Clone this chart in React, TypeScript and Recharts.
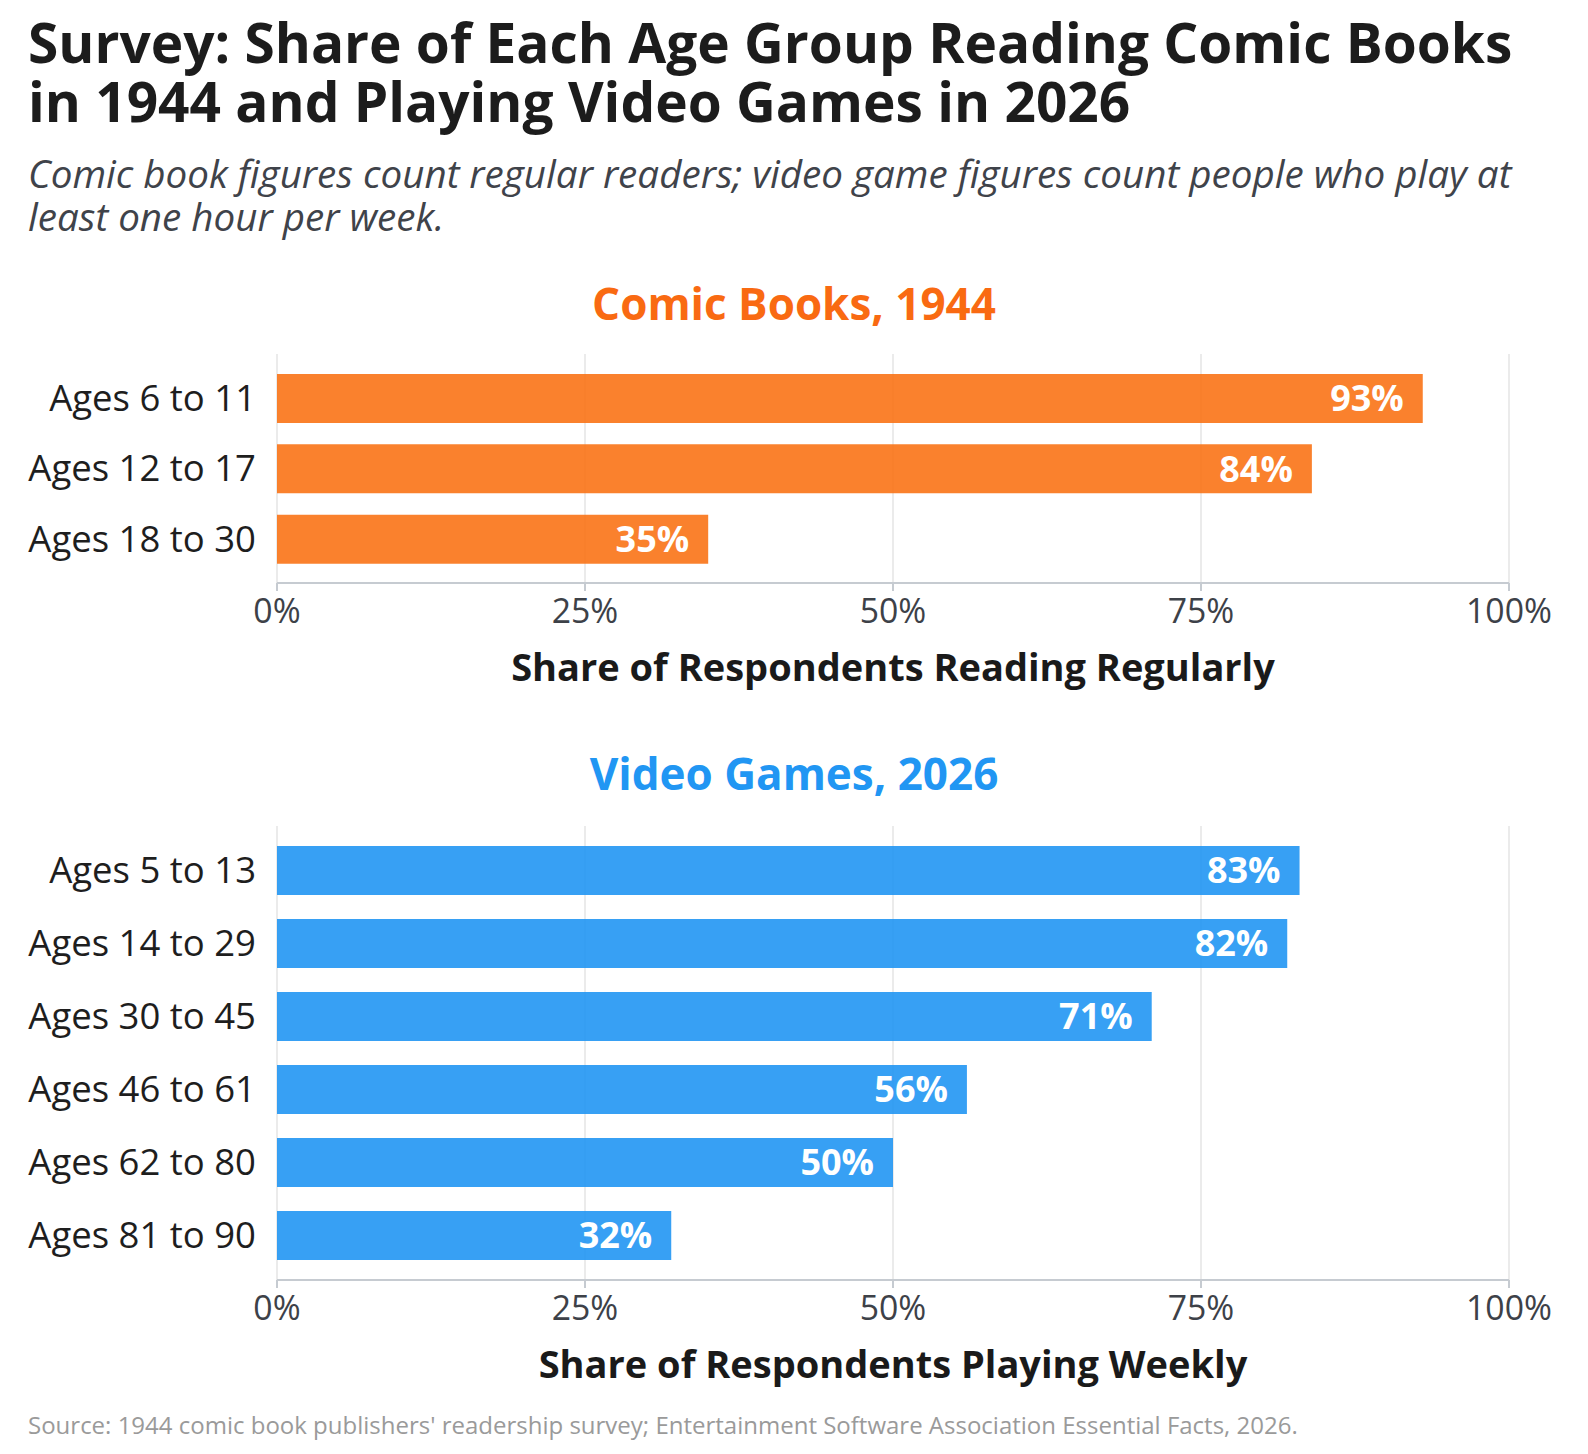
import React from "react";
import {
  BarChart,
  Bar,
  XAxis,
  YAxis,
  CartesianGrid,
  LabelList,
} from "recharts";

const comicAges = ["Ages 6 to 11", "Ages 12 to 17", "Ages 18 to 30"];
const comicShare = [93, 84, 35];

const gameAges = [
  "Ages 5 to 13",
  "Ages 14 to 29",
  "Ages 30 to 45",
  "Ages 46 to 61",
  "Ages 62 to 80",
  "Ages 81 to 90",
];
const gameShare = [83, 82, 71, 56, 50, 32];

const xTicks = [0, 25, 50, 75, 100];

const titleLines = [
  "Survey: Share of Each Age Group Reading Comic Books",
  "in 1944 and Playing Video Games in 2026",
];
const subtitleLines = [
  "Comic book figures count regular readers; video game figures count people who play at",
  "least one hour per week.",
];

const FONT = "'Open Sans', 'Noto Sans', sans-serif";

const comicData = comicAges.map((age, i) => ({ age, value: comicShare[i] }));
const gameData = gameAges.map((age, i) => ({ age, value: gameShare[i] }));

type PanelProps = {
  data: { age: string; value: number }[];
  height: number;
  color: string;
  axisLabel: string;
  pad: number;
};

function Panel({ data, height, color, axisLabel, pad }: PanelProps) {
  return (
    <BarChart
      layout="vertical"
      width={1588}
      height={height}
      data={data}
      margin={{ top: 10, right: 79, bottom: 15, left: 27 }}
    >
      <CartesianGrid horizontal={false} stroke="#e4e4e4" strokeWidth={1.5} />
      <XAxis
        type="number"
        domain={[0, 100]}
        ticks={xTicks}
        tickFormatter={(v) => `${v}%`}
        height={100}
        stroke="#c6cbd1"
        strokeWidth={2}
        tickSize={8}
        tickMargin={8}
        tick={{ fill: "#3d4148", fontSize: 33.8, fontFamily: FONT }}
        label={{
          value: axisLabel,
          position: "insideBottom",
          offset: 2,
          fill: "#1a1a1a",
          fontSize: 38,
          fontWeight: 700,
          fontFamily: FONT,
        }}
      />
      <YAxis
        type="category"
        dataKey="age"
        width={250}
        axisLine={false}
        tickLine={false}
        tickMargin={15}
        padding={{ top: pad, bottom: pad }}
        tick={{ fill: "#1e1e1e", fontSize: 36.5, fontFamily: FONT }}
      />
      <Bar
        dataKey="value"
        fill={color}
        fillOpacity={0.9}
        barSize={49}
        isAnimationActive={false}
      >
        <LabelList
          dataKey="value"
          position="insideRight"
          offset={19}
          formatter={(v: number) => `${v}%`}
          fill="#ffffff"
          fontSize={36}
          fontWeight={700}
          fontFamily={FONT}
        />
      </Bar>
    </BarChart>
  );
}

export default function App() {
  return (
    <div
      style={{
        position: "absolute",
        left: 0,
        top: 0,
        width: 1588,
        height: 1454,
        background: "#ffffff",
        fontFamily: FONT,
        overflow: "hidden",
      }}
    >
      {/* Title */}
      <div style={{ position: "absolute", left: 28, top: 12 }}>
        {titleLines.map((line) => (
          <div
            key={line}
            style={{
              height: 59,
              fontSize: 55,
              fontWeight: 700,
              lineHeight: "59px",
              color: "#1c1c1c",
              whiteSpace: "nowrap",
            }}
          >
            {line}
          </div>
        ))}
      </div>

      {/* Subtitle */}
      <div style={{ position: "absolute", left: 28, top: 152 }}>
        {subtitleLines.map((line) => (
          <div
            key={line}
            style={{
              height: 43,
              fontSize: 38.6,
              fontStyle: "italic",
              lineHeight: "43px",
              color: "#3f434a",
              whiteSpace: "nowrap",
            }}
          >
            {line}
          </div>
        ))}
      </div>

      <div
        style={{
          position: "absolute",
          left: 0,
          width: 1588,
          top: 273,
          textAlign: "center",
          fontSize: 44,
          fontWeight: 700,
          color: "#f96a12",
        }}
      >
        Comic Books, 1944
      </div>
      <div style={{ position: "absolute", left: 0, top: 344 }}>
        <Panel
          data={comicData}
          height={354}
          color="#f97316"
          axisLabel="Share of Respondents Reading Regularly"
          pad={9}
        />
      </div>

      <div
        style={{
          position: "absolute",
          left: 0,
          width: 1588,
          top: 743,
          textAlign: "center",
          fontSize: 44,
          fontWeight: 700,
          color: "#2196f3",
        }}
      >
        Video Games, 2026
      </div>
      <div style={{ position: "absolute", left: 0, top: 816 }}>
        <Panel
          data={gameData}
          height={579}
          color="#2196f3"
          axisLabel="Share of Respondents Playing Weekly"
          pad={8}
        />
      </div>

      {/* Source */}
      <div
        style={{
          position: "absolute",
          left: 28,
          top: 1408,
          fontSize: 24,
          color: "#9a9a9a",
          whiteSpace: "nowrap",
        }}
      >
        Source: 1944 comic book publishers' readership survey; Entertainment Software Association Essential Facts, 2026.
      </div>
    </div>
  );
}
